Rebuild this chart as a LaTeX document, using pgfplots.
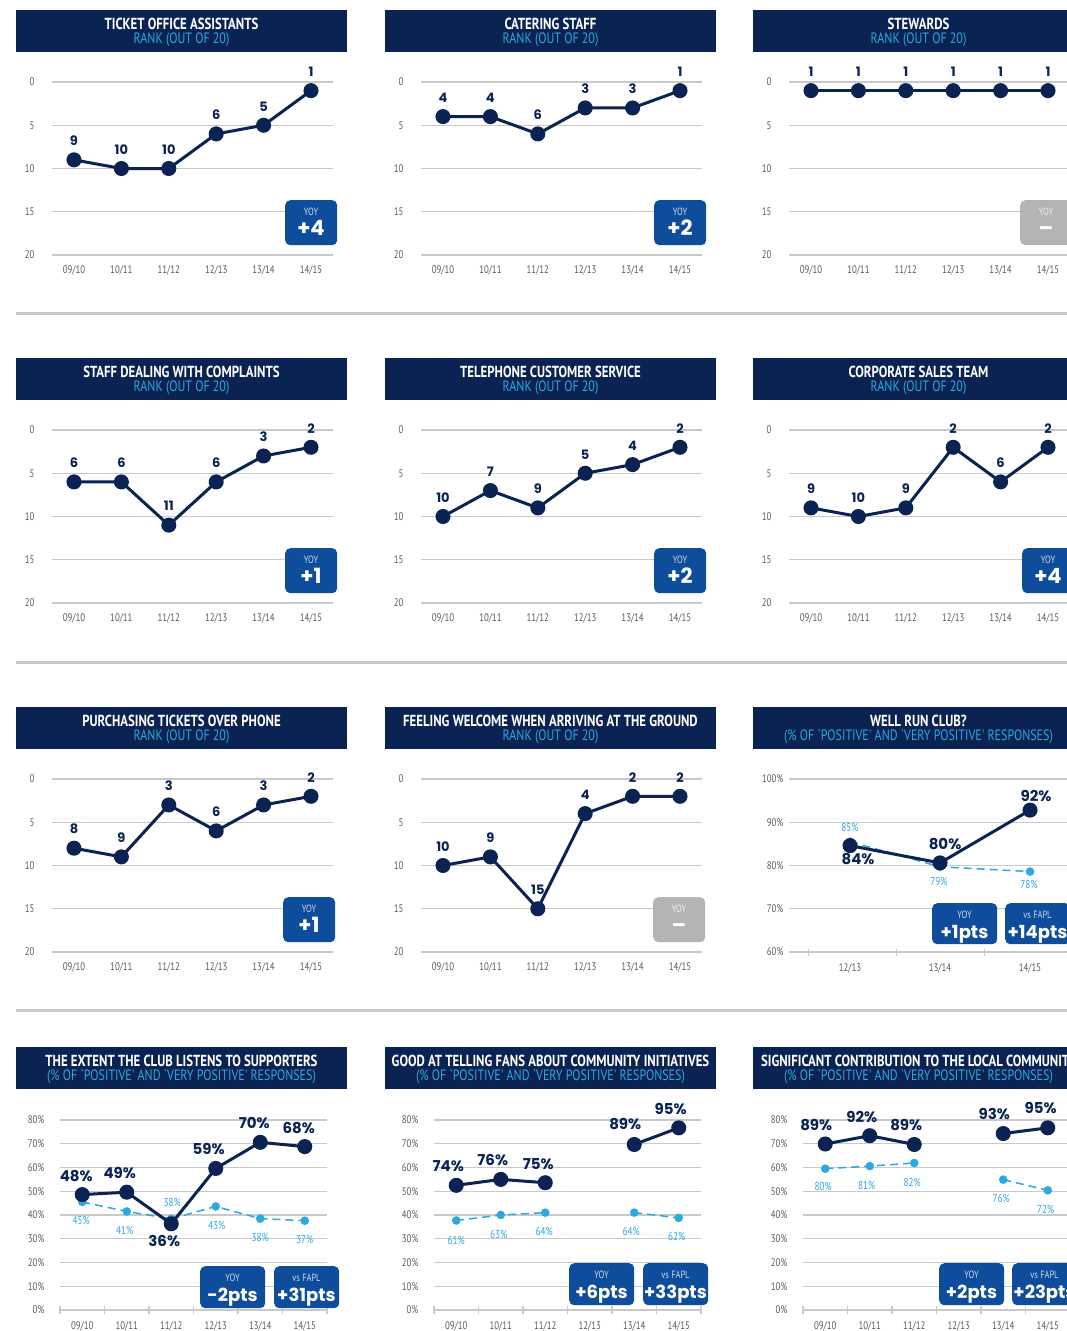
\documentclass[border=0pt]{standalone}
\usepackage{fontspec}
\usepackage{pgfplots}
\usepackage{pgfplotstable}
\pgfplotsset{compat=1.18}
\setmainfont{PT Sans}
\newfontfamily\cond[FakeStretch=0.8]{PT Sans}
\newfontfamily\pop{Poppins}
\pgfkeys{/pgf/number format/assume math mode=true}

\definecolor{navy}{HTML}{0B2352}
\definecolor{boxblue}{HTML}{0E4C9C}
\definecolor{lblue}{HTML}{2BA9E1}
\definecolor{gridgray}{HTML}{C9C9C9}
\definecolor{tickgray}{HTML}{5A5A5A}
\definecolor{boxgray}{HTML}{B4B4B4}

% bottom row: y is where the dot sits, lab is the printed value
\pgfplotstableread{
x y lab dx dy
0 48.6 48 -6 19
1 49.6 49 -7 19
2 36.3 36 -7 -17
3 59.6 59 -7 19
4 70.6 70 -6 19
5 68.8 68 -6 19
}\listenDark
\pgfplotstableread{
x y lab dx dy
0 45.5 45 -1 -19
1 41.5 41 -2 -19
2 38.4 38 1 16
3 43.6 43 1 -19
4 38.5 38 0 -19
5 37.6 37 0 -19
}\listenFapl
\pgfplotstableread{
x y lab dx dy
0 52.5 74 -8 19
1 55.0 76 -8 19
2 53.6 75 -7 19
3 nan nan 0 0
4 69.7 89 -9 20
5 76.7 95 -8 19
}\commDark
\pgfplotstableread{
x y lab dx dy
0 37.7 61 0 -20
1 40.0 63 -2 -19
2 41.0 64 -1 -19
3 nan nan 0 0
4 41.0 64 -3 -19
5 38.8 62 -2 -19
}\commFapl
\pgfplotstableread{
x y lab dx dy
0 69.9 89 -9 19
1 73.4 92 -8 19
2 69.7 89 -8 19
3 nan nan 0 0
4 74.3 93 -9 20
5 76.7 95 -7 20
}\localDark
\pgfplotstableread{
x y lab dx dy
0 59.5 80 -2 -18
1 60.6 81 -3 -19
2 61.9 82 -2 -19
3 nan nan 0 0
4 54.9 76 -2 -19
5 50.4 72 -2 -19
}\localFapl
\pgfplotstableread{
x y lab dx dy
0 84.6 84 8 -13
1 80.6 80 5 19
2 92.8 92 6 14
}\wellDark
\pgfplotstableread{
x y lab dx dy
0 85.5 85 0 14
1 79.7 79 -1 -15
2 78.6 78 -1 -13
}\wellFapl

\pgfplotsset{
  base/.style={scale only axis, anchor=north west, clip=false,
    axis line style={draw=none}, major tick style={draw=none},
    ymajorgrids, grid style={gridgray, line width=1.4pt},
    tick label style={font=\cond\fontsize{11}{11}\selectfont, text=tickgray},
    /pgf/number format/assume math mode=true,
    tick pos=left},
  rank/.style={base, width=281pt, height=173pt, xmin=-0.464, xmax=5.464,
    ymin=0, ymax=20, y dir=reverse, ytick={0,5,10,15,20},
    xtick={0,...,5}, xticklabels={09/10,10/11,11/12,12/13,13/14,14/15},
    yticklabel style={xshift=-14pt}, xticklabel style={yshift=-7pt}},
  pct/.style={base, width=267pt, height=190pt, xmin=-0.5, xmax=5.5,
    ymin=0, ymax=80, ytick={0,10,...,80},
    yticklabel={\pgfmathprintnumber{\tick}\%},
    xtick={0,...,5}, xticklabels={09/10,10/11,11/12,12/13,13/14,14/15},
    minor xtick={-0.5,0.5,...,5.5}, minor tick length=8pt,
    minor tick style={gridgray, line width=1.2pt}, tick align=center,
    unbounded coords=jump,
    yticklabel style={xshift=-10pt}, xticklabel style={yshift=-6pt}},
  rankline/.style={navy, line width=3pt, mark=*, mark size=6pt,
    mark options={solid, fill=navy}, nodes near coords,
    every node near coord/.style={font=\pop\bfseries\fontsize{13}{13}\selectfont,
      text=navy, anchor=center, inner sep=0, yshift=19pt}},
  labelled/.style={point meta=\thisrow{lab},
    nodes near coords={\pgfmathprintnumber{\pgfplotspointmeta}\%},
    visualization depends on={\thisrow{dx}\as\ldx},
    visualization depends on={\thisrow{dy}\as\ldy}},
  pdark/.style={labelled, navy, line width=3pt, mark=*, mark size=6pt,
    mark options={solid, fill=navy},
    every node near coord/.style={font=\pop\bfseries\fontsize{15}{15}\selectfont,
      text=navy, anchor=center, inner sep=0, xshift=\ldx pt, yshift=\ldy pt}},
  plight/.style={labelled, lblue, line width=1.5pt, dash pattern=on 8pt off 5pt,
    mark=*, mark size=3.5pt, mark options={solid, fill=lblue},
    every node near coord/.style={font=\cond\fontsize{11.5}{11.5}\selectfont,
      text=lblue, anchor=center, inner sep=0, xshift=\ldx pt, yshift=\ldy pt}},
}

\newcommand\header[4]{%
  \fill[navy] (#1pt,-#2pt) rectangle ++(331pt,-42pt);
  \node[text=white, font=\cond\bfseries\fontsize{16}{16}\selectfont, inner sep=0, anchor=base]
    at (#1pt+165.5pt,-#2pt-19.5pt) {#3};
  \node[text=lblue, font=\cond\fontsize{15}{15}\selectfont, inner sep=0, anchor=base]
    at (#1pt+165.5pt,-#2pt-33.5pt) {#4};}
% x, y, width, height, colour, small text, big text, big size
\newcommand\statbox[8]{%
  \node[fill=#5, rounded corners=5pt, minimum width=#3pt, minimum height=#4pt,
    inner sep=0, anchor=north west] at (#1pt,-#2pt) {};
  \node[text=white, text opacity=0.8, font=\cond\fontsize{10.5}{10.5}\selectfont, inner sep=0, anchor=base]
    at (#1pt+#3pt/2,-#2pt-15pt) {#6};
  \node[text=white, font=\pop\bfseries\fontsize{#8}{#8}\selectfont, inner sep=0, anchor=base]
    at (#1pt+#3pt/2,-#2pt-35pt) {#7};}
\newcommand\rankpanel[3]{%
  \begin{axis}[rank, at={(#1pt,-#2pt)}]
  \addplot[rankline] coordinates {#3};
  \end{axis}}
\def\pcttitle{(\% OF `POSITIVE' AND `VERY POSITIVE' RESPONSES)}

\begin{document}
\begin{tikzpicture}
\useasboundingbox (0,0) rectangle (1067pt,-1331pt);
\fill[white] (0,0) rectangle (1067pt,-1331pt);
\clip (0,0) rectangle (1067pt,-1331pt);

\header{16}{10}{TICKET OFFICE ASSISTANTS}{RANK (OUT OF 20)}
\header{385}{10}{CATERING STAFF}{RANK (OUT OF 20)}
\header{753}{10}{STEWARDS}{RANK (OUT OF 20)}
\header{16}{358}{STAFF DEALING WITH COMPLAINTS}{RANK (OUT OF 20)}
\header{385}{358}{TELEPHONE CUSTOMER SERVICE}{RANK (OUT OF 20)}
\header{753}{358}{CORPORATE SALES TEAM}{RANK (OUT OF 20)}
\header{16}{707}{PURCHASING TICKETS OVER PHONE}{RANK (OUT OF 20)}
\header{385}{707}{FEELING WELCOME WHEN ARRIVING AT THE GROUND}{RANK (OUT OF 20)}
\header{753}{707}{WELL RUN CLUB?}{\pcttitle}
\header{16}{1047}{THE EXTENT THE CLUB LISTENS TO SUPPORTERS}{\pcttitle}
\header{385}{1047}{GOOD AT TELLING FANS ABOUT COMMUNITY INITIATIVES}{\pcttitle}
\header{753}{1047}{SIGNIFICANT CONTRIBUTION TO THE LOCAL COMMUNITY}{\pcttitle}

\foreach \yy in {313,662,1010}
  \draw[gridgray, line width=3pt] (16pt,-\yy pt) -- (1067pt,-\yy pt);

\rankpanel{52}{82}{(0,9) (1,10) (2,10) (3,6) (4,5) (5,1)}
\rankpanel{421}{82}{(0,4) (1,4) (2,6) (3,3) (4,3) (5,1)}
\rankpanel{789}{82}{(0,1) (1,1) (2,1) (3,1) (4,1) (5,1)}
\rankpanel{52}{430}{(0,6) (1,6) (2,11) (3,6) (4,3) (5,2)}
\rankpanel{421}{430}{(0,10) (1,7) (2,9) (3,5) (4,4) (5,2)}
\rankpanel{789}{430}{(0,9) (1,10) (2,9) (3,2) (4,6) (5,2)}
\rankpanel{52}{779}{(0,8) (1,9) (2,3) (3,6) (4,3) (5,2)}
\rankpanel{421}{779}{(0,10) (1,9) (2,15) (3,4) (4,2) (5,2)}

\begin{axis}[base, at={(789pt,-779pt)}, width=290pt, height=173pt,
  xmin=-0.678, xmax=2.544, ymin=60, ymax=100, ytick={60,70,...,100},
  yticklabel={\pgfmathprintnumber{\tick}\%},
  xtick={0,1,2}, xticklabels={12/13,13/14,14/15},
  minor xtick={-0.46,0.52,1.49}, minor tick length=7pt,
  minor tick style={gridgray, line width=1.2pt}, tick align=center,
  xticklabel style={yshift=-6pt}]
\addplot[plight] table[x=x, y=y] {\wellFapl};
\addplot[pdark] table[x=x, y=y] {\wellDark};
\end{axis}

\begin{axis}[pct, at={(60pt,-1120pt)}]
\addplot[plight] table[x=x, y=y] {\listenFapl};
\addplot[pdark] table[x=x, y=y] {\listenDark};
\end{axis}
\begin{axis}[pct, at={(434pt,-1120pt)}]
\addplot[plight] table[x=x, y=y] {\commFapl};
\addplot[pdark] table[x=x, y=y] {\commDark};
\end{axis}
\begin{axis}[pct, at={(803pt,-1120pt)}]
\addplot[plight] table[x=x, y=y] {\localFapl};
\addplot[pdark] table[x=x, y=y] {\localDark};
\end{axis}

\statbox{285}{200}{52}{45}{boxblue}{YOY}{+4}{21}
\statbox{654}{200}{52}{45}{boxblue}{YOY}{+2}{21}
\statbox{1020}{200}{52}{45}{boxgray}{YOY}{–}{21}
\statbox{285}{548}{52}{45}{boxblue}{YOY}{+1}{21}
\statbox{654}{548}{52}{45}{boxblue}{YOY}{+2}{21}
\statbox{1022}{548}{52}{45}{boxblue}{YOY}{+4}{21}
\statbox{283}{897}{52}{45}{boxblue}{YOY}{+1}{21}
\statbox{653}{897}{52}{45}{boxgray}{YOY}{–}{21}
\statbox{932}{903}{65}{41}{boxblue}{YOY}{+1pts}{18}
\statbox{1005}{903}{65}{41}{boxblue}{vs FAPL}{+14pts}{18}
\statbox{200}{1266}{65}{42}{boxblue}{YOY}{-2pts}{18}
\statbox{274}{1266}{65}{42}{boxblue}{vs FAPL}{+31pts}{18}
\statbox{569}{1263}{65}{42}{boxblue}{YOY}{+6pts}{18}
\statbox{643}{1263}{65}{42}{boxblue}{vs FAPL}{+33pts}{18}
\statbox{939}{1263}{65}{42}{boxblue}{YOY}{+2pts}{18}
\statbox{1012}{1263}{65}{42}{boxblue}{vs FAPL}{+23pts}{18}
\end{tikzpicture}
\end{document}
